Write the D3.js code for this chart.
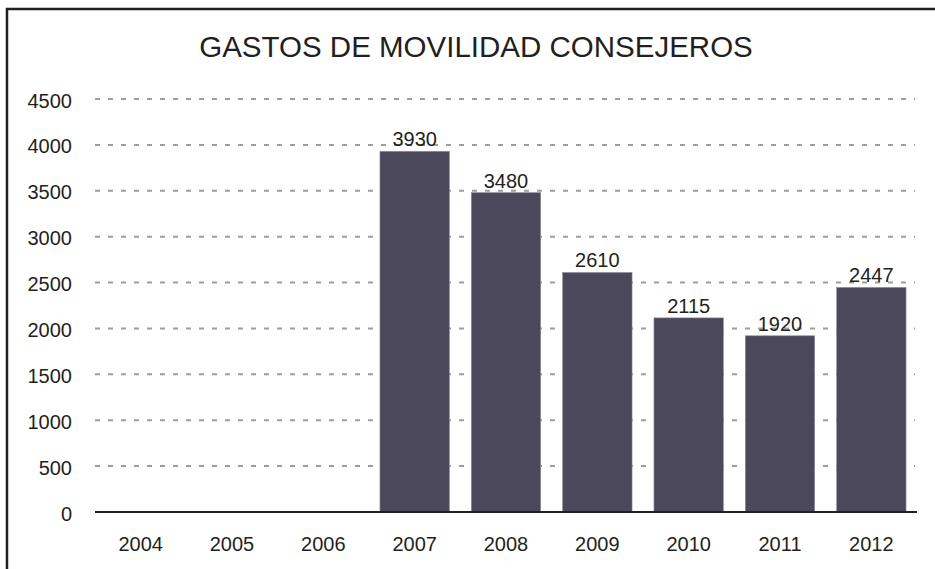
<!DOCTYPE html>
<html>
<head>
<meta charset="utf-8">
<script src="https://cdn.jsdelivr.net/npm/d3@7"></script>
<style>
  body { margin: 0; background: #fff; }
  svg { display: block; font-family: "Liberation Sans", Arial, sans-serif; }
</style>
</head>
<body>
<svg id="chart"></svg>
<script>
var width = 935;
var height = 569;

// data
var years = ["2004", "2005", "2006", "2007", "2008", "2009", "2010", "2011", "2012"];
var gastos = [null, null, null, 3930, 3480, 2610, 2115, 1920, 2447];
var yTicks = [0, 500, 1000, 1500, 2000, 2500, 3000, 3500, 4000, 4500];
var title = "GASTOS DE MOVILIDAD CONSEJEROS";

var plotLeft = 95, plotRight = 917, plotTop = 99, plotBottom = 512;

var svg = d3.select("#chart")
    .attr("width", width)
    .attr("height", height);

// frame (only top and left edges are visible in the picture)
svg.append("path")
    .attr("d", "M7," + height + "V9H" + width)
    .attr("fill", "none")
    .attr("stroke", "#231f20")
    .attr("stroke-width", 2.5);

var x = d3.scaleBand()
    .domain(years)
    .range([plotLeft, plotRight])
    .paddingInner(0.24)
    .paddingOuter(0.12);

var y = d3.scaleLinear()
    .domain([0, 4500])
    .range([plotBottom, plotTop]);

// title
svg.append("text")
    .attr("x", 476)
    .attr("y", 57)
    .attr("text-anchor", "middle")
    .attr("font-size", "29.5px")
    .attr("fill", "#231f20")
    .text(title);

// dashed grid lines
svg.selectAll(".grid")
    .data(yTicks.filter(function (d) { return d > 0; }))
    .enter().append("line")
    .attr("class", "grid")
    .attr("x1", plotLeft)
    .attr("x2", plotRight - 2)
    .attr("y1", function (d) { return y(d); })
    .attr("y2", function (d) { return y(d); })
    .attr("stroke", "#9d9d9d")
    .attr("stroke-width", 2)
    .attr("stroke-dasharray", "5,8");

// y axis labels
var yAxis = svg.append("g")
    .attr("transform", "translate(" + (plotLeft - 10) + ",0)")
    .call(d3.axisLeft(y).tickValues(yTicks).tickFormat(d3.format("d")).tickSize(0).tickPadding(13));
yAxis.select(".domain").remove();
yAxis.selectAll("text")
    .attr("font-size", "20px")
    .attr("font-family", "Liberation Sans, Arial, sans-serif")
    .attr("fill", "#231f20")
    .attr("dy", "0.4em");

// bars
var barData = years.map(function (d, i) { return { year: d, value: gastos[i] }; })
    .filter(function (d) { return d.value !== null; });

svg.selectAll(".bar")
    .data(barData)
    .enter().append("rect")
    .attr("class", "bar")
    .attr("x", function (d) { return x(d.year); })
    .attr("y", function (d) { return y(d.value); })
    .attr("width", x.bandwidth())
    .attr("height", function (d) { return y(0) - y(d.value); })
    .attr("fill", "#4b485b")
    .attr("stroke", "#8e8c9c")
    .attr("stroke-width", 0.6);

// value labels
svg.selectAll(".label")
    .data(barData)
    .enter().append("text")
    .attr("class", "label")
    .attr("x", function (d) { return x(d.year) + x.bandwidth() / 2; })
    .attr("y", function (d) { return y(d.value) - 5; })
    .attr("text-anchor", "middle")
    .attr("font-size", "20px")
    .attr("fill", "#231f20")
    .text(function (d) { return d.value; });

// baseline
svg.append("line")
    .attr("x1", plotLeft)
    .attr("x2", plotRight)
    .attr("y1", y(0))
    .attr("y2", y(0))
    .attr("stroke", "#231f20")
    .attr("stroke-width", 2);

// x axis labels
var xAxis = svg.append("g")
    .attr("transform", "translate(0," + y(0) + ")")
    .call(d3.axisBottom(x).tickSize(0).tickPadding(25));
xAxis.select(".domain").remove();
xAxis.selectAll("text")
    .attr("font-size", "20px")
    .attr("font-family", "Liberation Sans, Arial, sans-serif")
    .attr("fill", "#231f20");
</script>
</body>
</html>
